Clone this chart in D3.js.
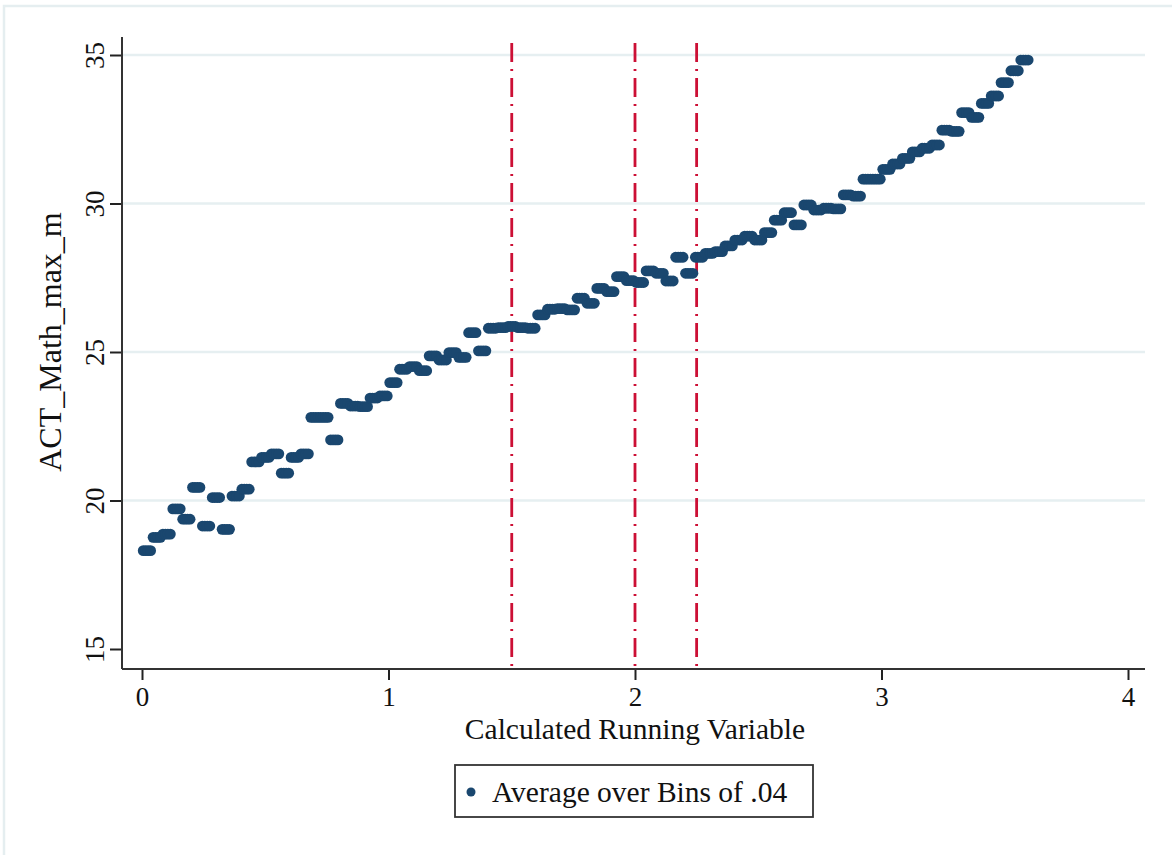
<!DOCTYPE html>
<html>
<head>
<meta charset="utf-8">
<script src="https://cdn.jsdelivr.net/npm/d3@7"></script>
<style>
  html, body { margin: 0; padding: 0; background: #ffffff; }
  svg { display: block; }
  text { font-family: "Liberation Serif", "Times New Roman", serif; fill: #111; }
</style>
</head>
<body>
<svg id="chart" width="1172" height="855"></svg>
<script>
// Bin width of the running variable and the left edge of each bin
const binWidth = 0.04;
const binStart = d3.range(90).map(i => +(i * binWidth).toFixed(2));

// Average ACT math score within each bin
const actMathAvg = [
  18.31, 18.76, 18.87, 19.72, 19.37, 20.44, 19.14, 20.10, 19.03, 20.15,
  20.38, 21.30, 21.45, 21.57, 20.92, 21.45, 21.57, 22.80, 22.80, 22.04,
  23.27, 23.18, 23.16, 23.45, 23.52, 23.97, 24.42, 24.51, 24.37, 24.87,
  24.73, 24.98, 24.82, 25.65, 25.04, 25.80, 25.82, 25.86, 25.82, 25.80,
  26.25, 26.44, 26.46, 26.42, 26.81, 26.64, 27.14, 27.03, 27.54, 27.40,
  27.34, 27.73, 27.65, 27.39, 28.19, 27.65, 28.19, 28.32, 28.38, 28.57,
  28.77, 28.90, 28.77, 29.02, 29.44, 29.69, 29.28, 29.95, 29.78, 29.84,
  29.82, 30.29, 30.25, 30.82, 30.82, 31.15, 31.33, 31.52, 31.74, 31.86,
  31.97, 32.47, 32.43, 33.06, 32.90, 33.37, 33.62, 34.07, 34.47, 34.83
];

// Cutoffs marked with vertical reference lines
const cutoffs = [1.5, 2, 2.25];

// Axis ticks
const xTicks = [0, 1, 2, 3, 4];
const yTicks = [15, 20, 25, 30, 35];
const gridTicks = [20, 25, 30, 35];

const xTitle = "Calculated Running Variable";
const yTitle = "ACT_Math_max_m";
const legendLabel = "Average over Bins of .04";

const svg = d3.select("#chart");
const navy = "#1a476f";
const red = "#cc0f35";

// Outer graph region
svg.append("rect")
  .attr("x", 4).attr("y", 6).attr("width", 1180).attr("height", 870)
  .attr("fill", "#ffffff").attr("stroke", "#e5eef0").attr("stroke-width", 2.5);

const x = d3.scaleLinear().domain([0, 4]).range([142, 1128]);
const y = d3.scaleLinear().domain([15, 35]).range([649, 55]);

const plotLeft = 122, plotRight = 1145, plotTop = 37, plotBottom = 669;

// Horizontal grid lines
svg.append("g").selectAll("line").data(gridTicks).join("line")
  .attr("x1", plotLeft).attr("x2", plotRight)
  .attr("y1", d => y(d)).attr("y2", d => y(d))
  .attr("stroke", "#e6eff1").attr("stroke-width", 2.5);

// Cutoff lines (long dash - dot)
svg.append("g").selectAll("line").data(cutoffs).join("line")
  .attr("x1", d => x(d)).attr("x2", d => x(d))
  .attr("y1", 43).attr("y2", plotBottom)
  .attr("stroke", red).attr("stroke-width", 2.8)
  .attr("stroke-dasharray", "19,7,2,7");

// Binned averages: each bin drawn as a run of dots across its width
const offsets = [0.125, 0.375, 0.625, 0.875];
const pts = [];
binStart.forEach((b, i) => {
  offsets.forEach(o => pts.push({ xv: b + o * binWidth, yv: actMathAvg[i] }));
});
svg.append("g").selectAll("circle").data(pts).join("circle")
  .attr("cx", d => x(d.xv)).attr("cy", d => y(d.yv))
  .attr("r", 5.4).attr("fill", navy);

// Axes
const xAxis = d3.axisBottom(x).tickValues(xTicks).tickFormat(d3.format("d"))
  .tickSize(11).tickPadding(7);
const gx = svg.append("g").attr("transform", `translate(0,${plotBottom})`).call(xAxis);
gx.select(".domain").remove();
gx.selectAll(".tick line").attr("stroke", "#222").attr("stroke-width", 2);
gx.selectAll(".tick text").attr("font-size", 27).attr("font-family", "Liberation Serif").attr("fill", "#111");
svg.append("line")
  .attr("x1", plotLeft).attr("x2", plotRight).attr("y1", plotBottom).attr("y2", plotBottom)
  .attr("stroke", "#333").attr("stroke-width", 2);

const yAxis = d3.axisLeft(y).tickValues(yTicks).tickFormat(d3.format("d")).tickSize(12);
const gy = svg.append("g").attr("transform", `translate(${plotLeft},0)`).call(yAxis);
gy.select(".domain").remove();
gy.selectAll(".tick line").attr("stroke", "#222").attr("stroke-width", 2);
gy.selectAll(".tick text")
  .attr("font-size", 27).attr("font-family", "Liberation Serif").attr("fill", "#111")
  .attr("text-anchor", "middle")
  .attr("transform", "rotate(-90)")
  .attr("x", 0).attr("y", -18).attr("dy", 0);
svg.append("line")
  .attr("x1", plotLeft).attr("x2", plotLeft).attr("y1", plotTop).attr("y2", plotBottom)
  .attr("stroke", "#333").attr("stroke-width", 2);

// Axis titles
svg.append("text")
  .attr("x", x(2)).attr("y", 739)
  .attr("text-anchor", "middle").attr("font-size", 29.5)
  .text(xTitle);
svg.append("text")
  .attr("transform", "translate(61,342) rotate(-90)")
  .attr("text-anchor", "middle").attr("font-size", 32)
  .text(yTitle);

// Legend
const lg = svg.append("g");
lg.append("rect")
  .attr("x", 455).attr("y", 765).attr("width", 358).attr("height", 52)
  .attr("fill", "#ffffff").attr("stroke", "#333").attr("stroke-width", 1.8);
lg.append("circle").attr("cx", 471).attr("cy", 792).attr("r", 4.5).attr("fill", navy);
lg.append("text")
  .attr("x", 492).attr("y", 802).attr("font-size", 29.5)
  .text(legendLabel);
</script>
</body>
</html>
